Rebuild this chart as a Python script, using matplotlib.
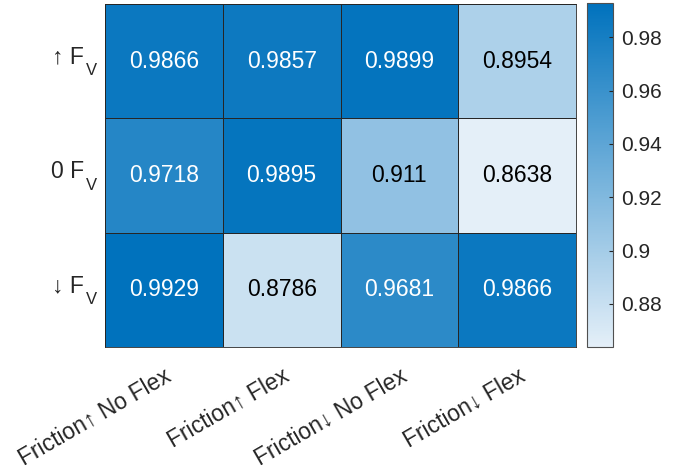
import numpy as np
import matplotlib
matplotlib.use("Agg")
import matplotlib.pyplot as plt
from matplotlib.colors import LinearSegmentedColormap, Normalize

plt.rcParams['font.family'] = ['Liberation Sans', 'DejaVu Sans']

conditions = ["Friction\u2191 No Flex", "Friction\u2191 Flex",
              "Friction\u2193 No Flex", "Friction\u2193 Flex"]
force_rows = ["\u2191 F", "0 F", "\u2193 F"]
force_sub = "V"
scores = np.array([
    [0.9866, 0.9857, 0.9899, 0.8954],
    [0.9718, 0.9895, 0.911, 0.8638],
    [0.9929, 0.8786, 0.9681, 0.9866],
])
cbar_ticks = [0.88, 0.9, 0.92, 0.94, 0.96, 0.98]

cmap = LinearSegmentedColormap.from_list(
    "blues", [(0.894, 0.937, 0.973), (0.0, 0.447, 0.741)])
norm = Normalize(vmin=scores.min(), vmax=scores.max())

fig = plt.figure(figsize=(6.87, 4.73), dpi=100)
ax = fig.add_axes([105 / 687, 1 - 347 / 473, 471 / 687, 343 / 473])
cax = fig.add_axes([587 / 687, 1 - 347 / 473, 26 / 687, 344 / 473])

edge = '#262626'
mesh = ax.pcolormesh(scores, cmap=cmap, norm=norm, edgecolors=edge, linewidth=0.5)
ax.set_xlim(0, scores.shape[1])
ax.set_ylim(scores.shape[0], 0)

for i in range(scores.shape[0]):
    for j in range(scores.shape[1]):
        v = scores[i, j]
        r, g, b, _ = cmap(norm(v))
        lum = 0.299 * r + 0.587 * g + 0.114 * b
        ax.text(j + 0.5, i + 0.5, f"{v:g}", ha='center', va='center',
                fontsize=16.5, color='white' if lum < 0.62 else 'black')

ax.set_xticks(np.arange(scores.shape[1]) + 0.5)
ax.set_xticklabels(conditions, rotation=30, ha='right', va='top',
                   rotation_mode='anchor', fontsize=16.5, color='#262626')
ax.set_yticks(np.arange(scores.shape[0]) + 0.5)
ax.set_yticklabels([])
ax.tick_params(axis='x', length=0, pad=12)
ax.tick_params(axis='y', length=0)

# row labels with a lowered subscript
for i, lab in enumerate(force_rows):
    ax.annotate(lab, xy=(0, i + 0.5), xycoords=('axes fraction', 'data'),
                xytext=(-21, 4), textcoords='offset pixels',
                ha='right', va='center', fontsize=16.5, color='#262626')
    ax.annotate(force_sub, xy=(0, i + 0.5), xycoords=('axes fraction', 'data'),
                xytext=(-8, -14), textcoords='offset pixels',
                ha='right', va='baseline', fontsize=12, color='#262626')

for s in ax.spines.values():
    s.set_color(edge)
    s.set_linewidth(0.6)

cb = fig.colorbar(mesh, cax=cax)
cb.set_ticks(cbar_ticks)
cb.set_ticklabels([f"{t:g}" for t in cbar_ticks])
cax.tick_params(direction='in', length=3, labelsize=15, colors='#262626', pad=6)
cb.outline.set_edgecolor('#505050')
cb.outline.set_linewidth(0.8)

fig.savefig("out.png", dpi=100)
